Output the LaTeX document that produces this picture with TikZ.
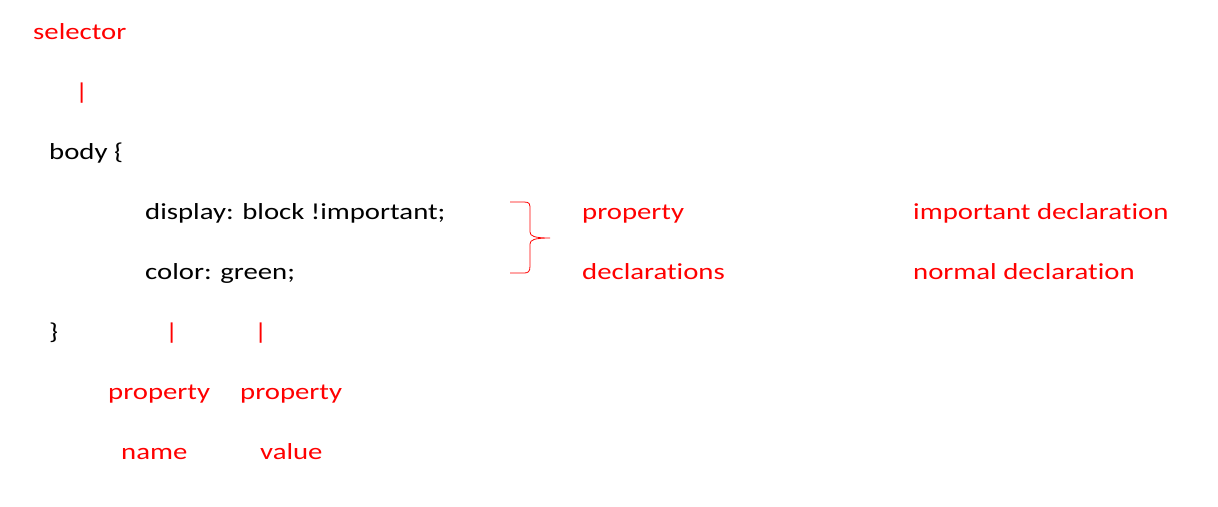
\documentclass[tikz,border=0pt]{standalone}
\usepackage{fontspec}
\setmainfont{Carlito}[FakeStretch=1.25, RawFeature={-liga}]
\usepackage{xcolor}
\usepackage{tikz}
\usetikzlibrary{positioning}
\definecolor{cssRed}{HTML}{FF0000}

\begin{document}
\begin{tikzpicture}[x=1pt, y=-1pt,
    every node/.style={inner sep=0pt, anchor=base west, font=\fontsize{23}{28}\selectfont},
    note/.style={text=cssRed},
    code/.style={text=black}]
  \useasboundingbox (0,0) rectangle (1218,506);
  % selector and the rule
  \node[note] (sel) at (33,39) {selector};
  \node[note] (selBar) at (75,99) {|};
  \node[code] (body) at (49,159) {body \{};
  \node[code] (decl1) at (145,219) {display: block !important;};
  \node[code] (decl2) at (145,279) {color: green;};
  \node[code] (close) at (49,339) {\}};
  % property name / value
  \node[note] (nameBar) at (165,339) {|};
  \node[note] (valBar) at (254,339) {|};
  \node[note] (propA) at (108,399) {property};
  \node[note] (propB) at (240,399) {property};
  \node[note] (nameLbl) at (121,459) {name};
  \node[note] (valLbl) at (260,459) {value};
  % brace
  \draw[cssRed, line width=0.8pt] (510,202) -- (524,202) .. controls (530,202) and (530,204) .. (530,210)
    -- (530,232) .. controls (530,236) and (534,238) .. (550,238)
    .. controls (534,238) and (530,240) .. (530,244)
    -- (530,266) .. controls (530,272) and (528,273) .. (524,273) -- (510,273);
  \node[note] (propDecl) at (582,219) {property};
  \node[note] (declLbl) at (582,279) {declarations};
  \node[note] (impDecl) at (913,219) {important declaration};
  \node[note] (normDecl) at (913,279) {normal declaration};
\end{tikzpicture}
\end{document}
